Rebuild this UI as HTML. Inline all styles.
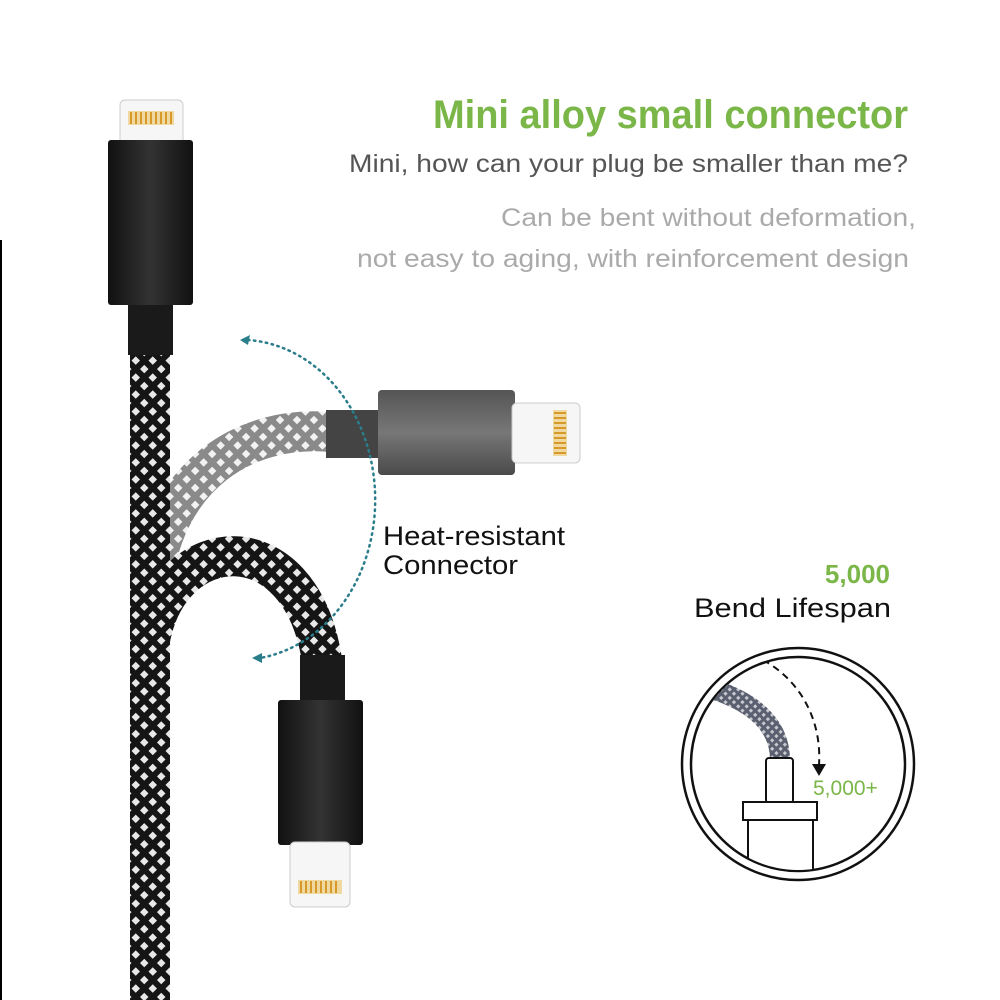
<!DOCTYPE html>
<html><head><meta charset="utf-8"><style>
html,body{margin:0;padding:0;background:#fff;}
svg{display:block;}
text{font-family:"Liberation Sans",sans-serif;}
</style></head><body>
<svg width="1000" height="1000" viewBox="0 0 1000 1000" xmlns="http://www.w3.org/2000/svg">
<defs>
<pattern id="bk" width="12" height="12" patternUnits="userSpaceOnUse" patternTransform="rotate(45)">
<rect width="12" height="12" fill="#151515"/><rect width="6" height="6" fill="#e8e8e8"/>
</pattern>
<pattern id="gr" width="12" height="12" patternUnits="userSpaceOnUse" patternTransform="rotate(45)">
<rect width="12" height="12" fill="#8a8a8a"/><rect width="6" height="6" fill="#f2f2f2"/>
</pattern>
<pattern id="sm" width="6" height="6" patternUnits="userSpaceOnUse" patternTransform="rotate(45)">
<rect width="6" height="6" fill="#5a6070"/><rect width="3" height="3" fill="#c8cad0"/>
</pattern>
<linearGradient id="hs" x1="0" x2="1"><stop offset="0" stop-color="#111"/><stop offset=".5" stop-color="#333"/><stop offset="1" stop-color="#111"/></linearGradient>
<linearGradient id="gh" x1="0" y1="0" x2="0" y2="1"><stop offset="0" stop-color="#555"/><stop offset=".5" stop-color="#777"/><stop offset="1" stop-color="#4a4a4a"/></linearGradient>
</defs>

<line x1="1" y1="240" x2="1" y2="1000" stroke="#000" stroke-width="2"/>

<path d="M150 600 C160 470 250 425 330 432" fill="none" stroke="url(#gr)" stroke-width="40"/>
<path d="M150 640 C170 530 300 520 322 660" fill="none" stroke="url(#bk)" stroke-width="40"/>
<rect x="130" y="350" width="40" height="650" fill="url(#bk)"/>

<rect x="120" y="100" width="63" height="50" rx="5" fill="#f6f6f6" stroke="#ccc"/>
<rect x="128" y="111" width="46" height="14" fill="#f0d9a0"/>
<g stroke="#d79a2a" stroke-width="2"><line x1="131" y1="112" x2="131" y2="124"/><line x1="136" y1="112" x2="136" y2="124"/><line x1="141" y1="112" x2="141" y2="124"/><line x1="146" y1="112" x2="146" y2="124"/><line x1="151" y1="112" x2="151" y2="124"/><line x1="156" y1="112" x2="156" y2="124"/><line x1="161" y1="112" x2="161" y2="124"/><line x1="166" y1="112" x2="166" y2="124"/><line x1="171" y1="112" x2="171" y2="124"/></g>
<rect x="108" y="140" width="85" height="165" rx="3" fill="url(#hs)"/>
<rect x="128" y="305" width="45" height="50" fill="#1a1a1a"/>

<rect x="326" y="410" width="55" height="48" fill="#444"/>
<rect x="378" y="390" width="137" height="85" rx="4" fill="url(#gh)"/>
<rect x="512" y="403" width="68" height="60" rx="5" fill="#f6f6f6" stroke="#ccc"/>
<rect x="553" y="410" width="14" height="46" fill="#f0d9a0"/>
<g stroke="#d79a2a" stroke-width="2"><line x1="554" y1="413" x2="566" y2="413"/><line x1="554" y1="418" x2="566" y2="418"/><line x1="554" y1="423" x2="566" y2="423"/><line x1="554" y1="428" x2="566" y2="428"/><line x1="554" y1="433" x2="566" y2="433"/><line x1="554" y1="438" x2="566" y2="438"/><line x1="554" y1="443" x2="566" y2="443"/><line x1="554" y1="448" x2="566" y2="448"/><line x1="554" y1="453" x2="566" y2="453"/></g>

<rect x="300" y="655" width="45" height="50" fill="#1a1a1a"/>
<rect x="278" y="700" width="85" height="145" rx="3" fill="url(#hs)"/>
<rect x="290" y="842" width="60" height="65" rx="5" fill="#f6f6f6" stroke="#ccc"/>
<rect x="298" y="880" width="44" height="14" fill="#f0d9a0"/>
<g stroke="#d79a2a" stroke-width="2"><line x1="301" y1="881" x2="301" y2="893"/><line x1="306" y1="881" x2="306" y2="893"/><line x1="311" y1="881" x2="311" y2="893"/><line x1="316" y1="881" x2="316" y2="893"/><line x1="321" y1="881" x2="321" y2="893"/><line x1="326" y1="881" x2="326" y2="893"/><line x1="331" y1="881" x2="331" y2="893"/><line x1="336" y1="881" x2="336" y2="893"/></g>

<path d="M248 340 A135 160 0 0 1 260 658" fill="none" stroke="#2a7d8a" stroke-width="2.5" stroke-dasharray="1.5 4.5" stroke-linecap="round"/>
<path d="M240 340 l10 -5 l-2 10 z" fill="#2a7d8a"/>
<path d="M252 658 l10 -5 l0 10 z" fill="#2a7d8a"/>

<text x="908" y="128" text-anchor="end" font-size="40" font-weight="bold" fill="#7ab648" textLength="475" lengthAdjust="spacingAndGlyphs">Mini alloy small connector</text>
<text x="908" y="172" text-anchor="end" font-size="25" fill="#555" textLength="559" lengthAdjust="spacingAndGlyphs">Mini, how can your plug be smaller than me?</text>
<text x="916" y="226" text-anchor="end" font-size="25" fill="#aaa" textLength="415" lengthAdjust="spacingAndGlyphs">Can be bent without deformation,</text>
<text x="909" y="267" text-anchor="end" font-size="25" fill="#aaa" textLength="552" lengthAdjust="spacingAndGlyphs">not easy to aging, with reinforcement design</text>
<text x="383" y="545" font-size="27" fill="#111" textLength="182" lengthAdjust="spacingAndGlyphs">Heat-resistant</text>
<text x="383" y="574" font-size="27" fill="#111" textLength="135" lengthAdjust="spacingAndGlyphs">Connector</text>
<text x="890" y="583" text-anchor="end" font-size="26" font-weight="bold" fill="#7ab648">5,000</text>
<text x="891" y="617" text-anchor="end" font-size="27" fill="#111" textLength="197" lengthAdjust="spacingAndGlyphs">Bend Lifespan</text>

<circle cx="798" cy="764" r="116" fill="none" stroke="#111" stroke-width="2.5"/>
<circle cx="798" cy="764" r="107" fill="none" stroke="#111" stroke-width="2.5"/>
<clipPath id="cc"><circle cx="798" cy="764" r="106"/></clipPath>
<g clip-path="url(#cc)">
<path d="M715 690 C760 705 780 730 780 760" fill="none" stroke="url(#sm)" stroke-width="20"/>
<rect x="766" y="758" width="27" height="45" rx="3" fill="#fff" stroke="#111" stroke-width="2"/>
<rect x="748" y="819" width="65" height="60" fill="#fff" stroke="#111" stroke-width="2"/>
<rect x="743" y="802" width="74" height="18" fill="#fff" stroke="#111" stroke-width="2"/>
<path d="M763 660 C800 680 822 720 819 765" fill="none" stroke="#111" stroke-width="2" stroke-dasharray="7 5"/>
<path d="M812 764 l7 12 l7 -12 z" fill="#111"/>
</g>
<text x="813" y="795" font-size="21" fill="#7ab648">5,000+</text>
</svg>
</body></html>
